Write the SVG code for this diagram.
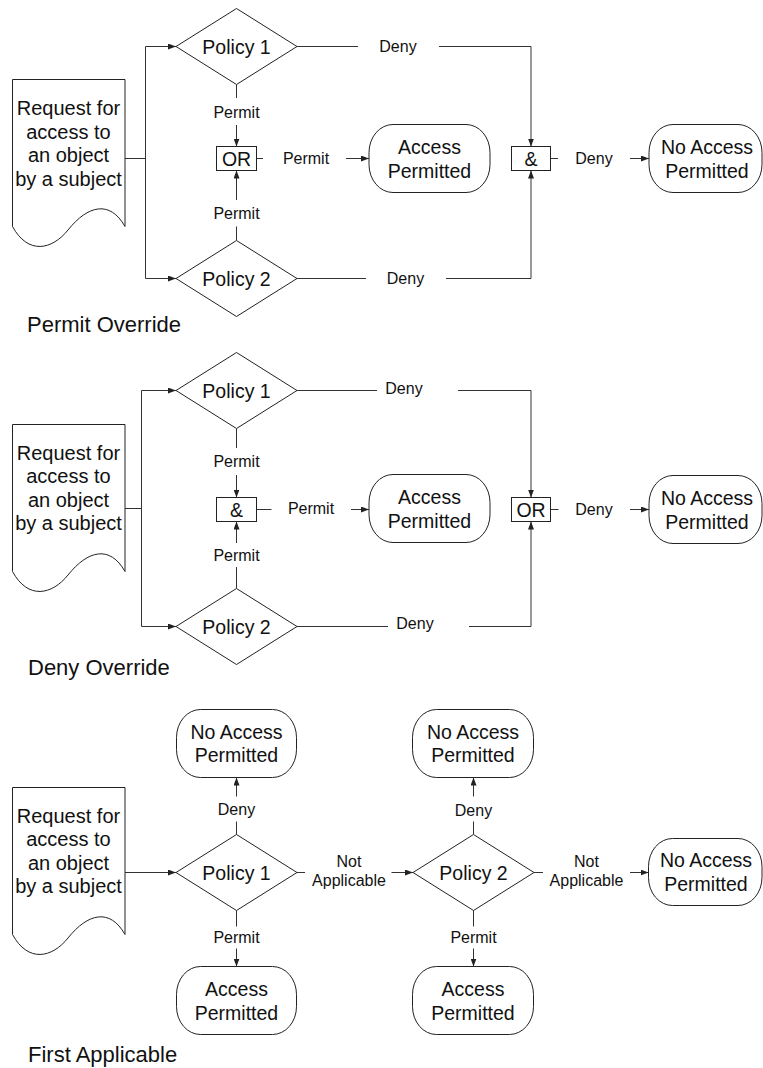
<svg xmlns="http://www.w3.org/2000/svg" width="763" height="1068" viewBox="0 0 763 1068">
<defs>
<style>
.shape{fill:#fff;stroke:#222;stroke-width:1}
.ln{fill:none;stroke:#333;stroke-width:1}
.ar{fill:none;stroke:#333;stroke-width:1;marker-end:url(#arr)}
text{font-family:"Liberation Sans",Arial,Helvetica,sans-serif;fill:#111;text-anchor:middle}
.t{font-size:19.5px}
.d{font-size:20px}
.s{font-size:16px}
.h{font-size:22px;text-anchor:start}
</style>
<marker id="arr" viewBox="0 0 8 6" refX="8" refY="3" markerWidth="8" markerHeight="6" orient="auto" markerUnits="userSpaceOnUse"><path d="M0,0 L8,3 L0,6 z" fill="#222"/></marker>
</defs>
<rect width="763" height="1068" fill="#fff"/>

<g id="connectors">
<path class="ln" d="M125,158.5 H145.5 M145.5,46.5 V278.5"/>
<path class="ar" d="M145.5,46.5 H176"/>
<path class="ar" d="M145.5,278.5 H176"/>
<path class="ln" d="M236.5,84.5 V98"/>
<path class="ar" d="M236.5,125 V146.5"/>
<path class="ln" d="M236.5,226.5 V240.5"/>
<path class="ar" d="M236.5,200 V170.5"/>
<path class="ln" d="M256.5,158.5 H263"/>
<path class="ar" d="M346,158.5 H369"/>
<path class="ln" d="M297,46.5 H358"/>
<path class="ar" d="M439,46.5 H531 V146.5"/>
<path class="ln" d="M297,278.5 H366"/>
<path class="ar" d="M446,278.5 H531 V170.5"/>
<path class="ln" d="M550.5,158.5 H558"/>
<path class="ar" d="M630,158.5 H649"/>
<path class="ln" d="M125,508.5 H141.5 M141.5,390.5 V626.5"/>
<path class="ar" d="M141.5,390.5 H176"/>
<path class="ar" d="M141.5,626.5 H176"/>
<path class="ln" d="M236.5,428.5 V448"/>
<path class="ar" d="M236.5,475 V497.5"/>
<path class="ln" d="M236.5,567 V588.5"/>
<path class="ar" d="M236.5,543 V521.5"/>
<path class="ln" d="M256.5,509.5 H271.5"/>
<path class="ar" d="M351,509.5 H369"/>
<path class="ln" d="M297,390.5 H377"/>
<path class="ar" d="M458,390.5 H531 V497.5"/>
<path class="ln" d="M297,626.5 H388"/>
<path class="ar" d="M469,626.5 H531 V521.5"/>
<path class="ln" d="M550.5,509.5 H558.5"/>
<path class="ar" d="M630,509.5 H649"/>
<path class="ar" d="M125,872.5 H176"/>
<path class="ln" d="M236.5,834.5 V821.5"/>
<path class="ar" d="M236.5,796.5 V777.5"/>
<path class="ln" d="M236.5,910.5 V926.5"/>
<path class="ar" d="M236.5,948.5 V966.5"/>
<path class="ln" d="M297,872.5 H305"/>
<path class="ar" d="M391.5,872.5 H413"/>
<path class="ln" d="M473.5,834.5 V821.5"/>
<path class="ar" d="M473.5,796.5 V777.5"/>
<path class="ln" d="M473.5,910.5 V926.5"/>
<path class="ar" d="M473.5,948.5 V966.5"/>
<path class="ln" d="M534,872.5 H543"/>
<path class="ar" d="M630,872.5 H648.5"/>
</g>

<g id="labels">
<text class="s" x="236.5" y="117.5">Permit</text>
<text class="s" x="236.5" y="218.5">Permit</text>
<text class="s" x="306" y="164">Permit</text>
<text class="s" x="398" y="52">Deny</text>
<text class="s" x="405.5" y="284">Deny</text>
<text class="s" x="594" y="164">Deny</text>
<text class="s" x="236.5" y="467">Permit</text>
<text class="s" x="236.5" y="560.5">Permit</text>
<text class="s" x="311" y="513.5">Permit</text>
<text class="s" x="404" y="394">Deny</text>
<text class="s" x="415" y="629">Deny</text>
<text class="s" x="594" y="515">Deny</text>
<text class="s" x="236.5" y="815">Deny</text>
<text class="s" x="236.5" y="943">Permit</text>
<text class="s" x="473.5" y="815.5">Deny</text>
<text class="s" x="473.5" y="943">Permit</text>
<text class="s" x="349" y="867">Not</text>
<text class="s" x="349" y="886">Applicable</text>
<text class="s" x="586.5" y="867">Not</text>
<text class="s" x="586.5" y="886">Applicable</text>
<text class="h" x="27" y="332">Permit Override</text>
<text class="h" x="28" y="675">Deny Override</text>
<text class="h" x="28" y="1062">First Applicable</text>
</g>

<g id="req1">
<path class="shape" d="M12.5,79.5 H125 V226.5 C110,200 88,205 68,230 C52,250 28,255 12.5,226.5 Z"/>
<text class="d" x="68.5" y="115">Request for</text>
<text class="d" x="68.5" y="138.5">access to</text>
<text class="d" x="68.5" y="162">an object</text>
<text class="d" x="68.5" y="185.5">by a subject</text>
</g>
<g id="p1a">
<polygon class="shape" points="176,46.5 236.5,8.5 297,46.5 236.5,84.5"/>
<text class="t" x="236.5" y="53.5">Policy 1</text>
</g>
<g id="p2a">
<polygon class="shape" points="176,278.5 236.5,240.5 297,278.5 236.5,316.5"/>
<text class="t" x="236.5" y="285.5">Policy 2</text>
</g>
<g id="or1">
<rect class="shape" x="216.5" y="146.5" width="40" height="24"/>
<text class="t" x="236.5" y="165.5">OR</text>
</g>
<g id="and1">
<rect class="shape" x="511.5" y="146.5" width="39" height="24"/>
<text class="t" x="531" y="165.5">&amp;</text>
</g>
<g id="acc1">
<rect class="shape" x="369" y="124.5" width="121" height="68" rx="24" ry="28"/>
<text class="t" x="429.5" y="153.5">Access</text>
<text class="t" x="429.5" y="177.5">Permitted</text>
</g>
<g id="noacc1">
<rect class="shape" x="649" y="124.5" width="113" height="68" rx="24" ry="28"/>
<text class="t" x="707" y="153.5">No Access</text>
<text class="t" x="707" y="177.5">Permitted</text>
</g>

<g id="req2">
<path class="shape" d="M12.5,424.5 H125 V571.5 C110,545 88,550 68,575 C52,595 28,600 12.5,571.5 Z"/>
<text class="d" x="68.5" y="459.5">Request for</text>
<text class="d" x="68.5" y="483">access to</text>
<text class="d" x="68.5" y="506.5">an object</text>
<text class="d" x="68.5" y="530">by a subject</text>
</g>
<g id="p1b">
<polygon class="shape" points="176,390.5 236.5,352.5 297,390.5 236.5,428.5"/>
<text class="t" x="236.5" y="397.5">Policy 1</text>
</g>
<g id="p2b">
<polygon class="shape" points="176,626.5 236.5,588.5 297,626.5 236.5,664.5"/>
<text class="t" x="236.5" y="633.5">Policy 2</text>
</g>
<g id="and2">
<rect class="shape" x="216.5" y="497.5" width="40" height="24"/>
<text class="t" x="236.5" y="516.5">&amp;</text>
</g>
<g id="or2">
<rect class="shape" x="511.5" y="497.5" width="39" height="24"/>
<text class="t" x="531" y="516.5">OR</text>
</g>
<g id="acc2">
<rect class="shape" x="369" y="474.5" width="121" height="68" rx="24" ry="28"/>
<text class="t" x="429.5" y="503.5">Access</text>
<text class="t" x="429.5" y="527.5">Permitted</text>
</g>
<g id="noacc2">
<rect class="shape" x="649" y="475.5" width="113" height="68" rx="24" ry="28"/>
<text class="t" x="707" y="504.5">No Access</text>
<text class="t" x="707" y="528.5">Permitted</text>
</g>

<g id="req3">
<path class="shape" d="M12.5,787.5 H125 V934.5 C110,908 88,913 68,938 C52,958 28,963 12.5,934.5 Z"/>
<text class="d" x="68.5" y="822.5">Request for</text>
<text class="d" x="68.5" y="846">access to</text>
<text class="d" x="68.5" y="869.5">an object</text>
<text class="d" x="68.5" y="893">by a subject</text>
</g>
<g id="p1c">
<polygon class="shape" points="176,872.5 236.5,834.5 297,872.5 236.5,910.5"/>
<text class="t" x="236.5" y="879.5">Policy 1</text>
</g>
<g id="p2c">
<polygon class="shape" points="413,872.5 473.5,834.5 534,872.5 473.5,910.5"/>
<text class="t" x="473.5" y="879.5">Policy 2</text>
</g>
<g id="noacc3a">
<rect class="shape" x="176.5" y="709.5" width="120" height="68" rx="24" ry="28"/>
<text class="t" x="236.5" y="738.5">No Access</text>
<text class="t" x="236.5" y="762">Permitted</text>
</g>
<g id="acc3a">
<rect class="shape" x="176.5" y="966.5" width="120" height="68" rx="24" ry="28"/>
<text class="t" x="236.5" y="996">Access</text>
<text class="t" x="236.5" y="1019.5">Permitted</text>
</g>
<g id="noacc3b">
<rect class="shape" x="412.5" y="709.5" width="121" height="68" rx="24" ry="28"/>
<text class="t" x="473" y="738.5">No Access</text>
<text class="t" x="473" y="762">Permitted</text>
</g>
<g id="acc3b">
<rect class="shape" x="412.5" y="966.5" width="121" height="68" rx="24" ry="28"/>
<text class="t" x="473" y="996">Access</text>
<text class="t" x="473" y="1019.5">Permitted</text>
</g>
<g id="noacc3c">
<rect class="shape" x="648.5" y="838.5" width="113.5" height="67" rx="24" ry="28"/>
<text class="t" x="706" y="867">No Access</text>
<text class="t" x="706" y="890.5">Permitted</text>
</g>
</svg>
